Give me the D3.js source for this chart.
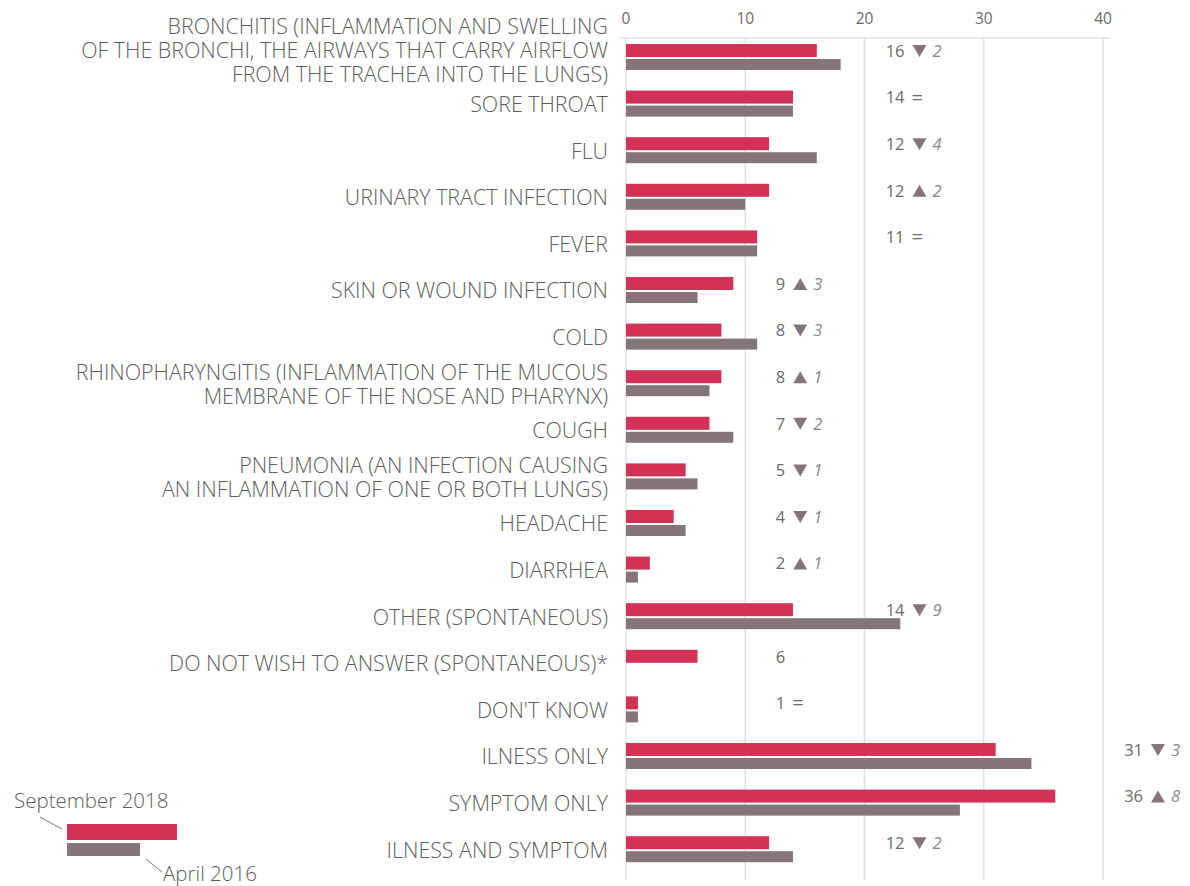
<!DOCTYPE html>
<html>
<head>
<meta charset="utf-8">
<script src="https://cdn.jsdelivr.net/npm/d3@7/dist/d3.min.js"></script>
<style>
  body { margin: 0; background: #fff; }
  svg text { font-family: "Open Sans", "Noto Sans", sans-serif; }
</style>
</head>
<body>
<div id="chart"></div>
<script>
// labels (lines split where the original wraps them)
var categories = [
  ["BRONCHITIS (INFLAMMATION AND SWELLING", "OF THE BRONCHI, THE AIRWAYS THAT CARRY AIRFLOW", "FROM THE TRACHEA INTO THE LUNGS)"],
  ["SORE THROAT"],
  ["FLU"],
  ["URINARY TRACT INFECTION"],
  ["FEVER"],
  ["SKIN OR WOUND INFECTION"],
  ["COLD"],
  ["RHINOPHARYNGITIS (INFLAMMATION OF THE MUCOUS", "MEMBRANE OF THE NOSE AND PHARYNX)"],
  ["COUGH"],
  ["PNEUMONIA (AN INFECTION CAUSING", "AN INFLAMMATION OF ONE OR BOTH LUNGS)"],
  ["HEADACHE"],
  ["DIARRHEA"],
  ["OTHER (SPONTANEOUS)"],
  ["DO NOT WISH TO ANSWER (SPONTANEOUS)*"],
  ["DON'T KNOW"],
  ["ILNESS ONLY"],
  ["SYMPTOM ONLY"],
  ["ILNESS AND SYMPTOM"]
];
var sept2018 = [16, 14, 12, 12, 11, 9, 8, 8, 7, 5, 4, 2, 14, 6, 1, 31, 36, 12];
var april2016 = [18, 14, 16, 10, 11, 6, 11, 7, 9, 6, 5, 1, 23, null, 1, 34, 28, 14];
var ticks = [0, 10, 20, 30, 40];
var seriesNames = ["September 2018", "April 2016"];

var W = 1190, H = 886;
var RED = "#d13256", GREY = "#857578", TXT = "#5c5c5c", NUM = "#6b6b6b";

var svg = d3.select("#chart").append("svg").attr("width", W).attr("height", H);

var x = d3.scaleLinear().domain([0, 40]).range([626, 1103]);
var idx = d3.range(categories.length);
var y = d3.scaleBand().domain(idx).range([38, 38 + 18 * 46.6]);

// grid
svg.append("g").selectAll("line").data(ticks).enter().append("line")
  .attr("x1", d => x(d)).attr("x2", d => x(d))
  .attr("y1", 38).attr("y2", 880)
  .attr("stroke", "#e4e0e0").attr("stroke-width", 1.5);
svg.append("line").attr("x1", 620).attr("x2", 1110).attr("y1", 38).attr("y2", 38)
  .attr("stroke", "#e4e0e0").attr("stroke-width", 1.5);

svg.append("g").selectAll("text").data(ticks).enter().append("text")
  .attr("x", d => x(d)).attr("y", 24)
  .attr("text-anchor", "middle").attr("fill", NUM).attr("font-size", 15.5)
  .text(d => d);

// bars
svg.append("g").selectAll("rect").data(idx).enter().append("rect")
  .attr("x", x(0)).attr("y", i => y(i) + 6)
  .attr("width", i => x(sept2018[i]) - x(0)).attr("height", 13)
  .attr("fill", RED);
svg.append("g").selectAll("rect").data(idx.filter(i => april2016[i] != null)).enter().append("rect")
  .attr("x", x(0)).attr("y", i => y(i) + 21)
  .attr("width", i => x(april2016[i]) - x(0)).attr("height", 11)
  .attr("fill", GREY);

// category labels
var lab = svg.append("g").selectAll("text").data(idx).enter().append("text")
  .attr("text-anchor", "end").attr("fill", TXT).attr("font-size", 21.4).attr("font-weight", 300);
lab.each(function(i) {
  var lines = categories[i];
  var n = lines.length;
  var cy = y(i) + 20 - (n === 3 ? 7 : 0);
  d3.select(this).selectAll("tspan").data(lines).enter().append("tspan")
    .attr("x", 608)
    .attr("y", (l, k) => cy + (k - (n - 1) / 2) * 24)
    .attr("dy", "0.35em")
    .text(l => l);
});

// value + change annotations
var ann = svg.append("g").selectAll("g").data(idx).enter().append("g")
  .attr("transform", i => {
    var gx = x(Math.ceil(sept2018[i] / 10) * 10) + 40;
    return "translate(" + gx + "," + (y(i) + 13) + ")";
  });
ann.append("text").attr("text-anchor", "end").attr("dy", "0.35em")
  .attr("fill", NUM).attr("font-size", 16.5).text(i => sept2018[i]);
ann.each(function(i) {
  if (april2016[i] == null) return;
  var g = d3.select(this);
  var diff = sept2018[i] - april2016[i];
  if (diff === 0) {
    g.append("text").attr("x", 7).attr("dy", "0.35em").attr("fill", NUM)
      .attr("font-size", 20).text("=");
    return;
  }
  var up = diff > 0;
  g.append("path")
    .attr("d", up ? "M8,6 L22,6 L15,-6 Z" : "M8,-6 L22,-6 L15,6 Z")
    .attr("fill", GREY);
  g.append("text").attr("x", 28).attr("dy", "0.35em").attr("fill", "#888")
    .attr("font-size", 16.5).attr("font-style", "italic").text(Math.abs(diff));
});

// legend
var leg = svg.append("g");
leg.append("text").attr("x", 14).attr("y", 808).attr("fill", TXT).attr("font-size", 20.5)
  .attr("font-weight", 300).text(seriesNames[0]);
leg.append("line").attr("x1", 40).attr("y1", 817).attr("x2", 62).attr("y2", 829)
  .attr("stroke", "#777").attr("stroke-width", 1);
leg.append("rect").attr("x", 67).attr("y", 824).attr("width", 110).attr("height", 16).attr("fill", RED);
leg.append("rect").attr("x", 67).attr("y", 843).attr("width", 73).attr("height", 13).attr("fill", GREY);
leg.append("line").attr("x1", 146).attr("y1", 859).attr("x2", 162).attr("y2", 872)
  .attr("stroke", "#777").attr("stroke-width", 1);
leg.append("text").attr("x", 163).attr("y", 881).attr("fill", TXT).attr("font-size", 20.5)
  .attr("font-weight", 300).text(seriesNames[1]);
</script>
</body>
</html>
